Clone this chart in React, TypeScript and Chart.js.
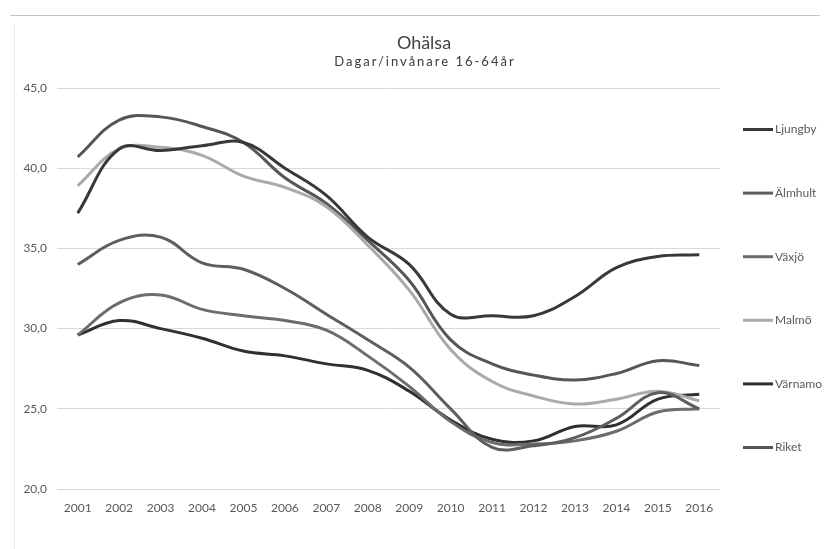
import { useEffect, useRef } from "react";
import { Chart, registerables } from "chart.js";

Chart.register(...registerables);

const years = ["2001", "2002", "2003", "2004", "2005", "2006", "2007", "2008", "2009", "2010", "2011", "2012", "2013", "2014", "2015", "2016"];

const ljungby = [37.2, 41.2, 41.1, 41.4, 41.6, 40.0, 38.3, 35.7, 34.0, 30.9, 30.8, 30.8, 32.0, 33.8, 34.5, 34.6];
const almhult = [34.0, 35.5, 35.7, 34.1, 33.7, 32.5, 30.9, 29.3, 27.6, 25.0, 22.6, 22.7, 23.2, 24.4, 26.0, 25.0];
const vaxjo = [29.6, 31.6, 32.1, 31.2, 30.8, 30.5, 29.9, 28.3, 26.4, 24.2, 22.9, 22.8, 23.0, 23.6, 24.8, 25.0];
const malmo = [38.9, 41.2, 41.3, 40.8, 39.5, 38.8, 37.6, 35.2, 32.4, 28.7, 26.7, 25.8, 25.3, 25.6, 26.1, 25.5];
const varnamo = [29.6, 30.5, 30.0, 29.4, 28.6, 28.3, 27.8, 27.4, 26.1, 24.3, 23.1, 23.0, 23.9, 24.0, 25.6, 25.9];
const riket = [40.7, 43.0, 43.2, 42.6, 41.6, 39.4, 37.8, 35.5, 33.0, 29.3, 27.8, 27.1, 26.8, 27.2, 28.0, 27.7];

const seriesNames = ["Ljungby", "Älmhult", "Växjö", "Malmö", "Värnamo", "Riket"];
const seriesValues = [ljungby, almhult, vaxjo, malmo, varnamo, riket];
const seriesColors = ["#383838", "#5e5e5e", "#6c6c6c", "#aaaaaa", "#303030", "#565656"];

const yMin = 20;
const yMax = 45;
const yStep = 5;

const titleText = "Ohälsa";
const subtitleText = "Dagar/invånare 16-64år";

const FONT = "Lato, 'Open Sans', sans-serif";

const decorPlugin = {
  id: "decor",
  beforeDraw(chart: any) {
    const ctx = chart.ctx as CanvasRenderingContext2D;
    ctx.save();
    ctx.fillStyle = "#ffffff";
    ctx.fillRect(0, 0, chart.width, chart.height);
    ctx.strokeStyle = "#c4c4c4";
    ctx.lineWidth = 1;
    ctx.beginPath();
    ctx.moveTo(10, 15.5);
    ctx.lineTo(chart.width - 6, 15.5);
    ctx.stroke();
    ctx.strokeStyle = "#ebebeb";
    ctx.beginPath();
    ctx.moveTo(14.5, 24);
    ctx.lineTo(14.5, chart.height);
    ctx.stroke();
    ctx.restore();
  },
  afterDraw(chart: any) {
    const ctx = chart.ctx as CanvasRenderingContext2D;
    const area = chart.chartArea;
    ctx.save();
    // titles
    const cx = chart.width / 2 + 11;
    ctx.textAlign = "center";
    ctx.textBaseline = "middle";
    ctx.fillStyle = "#404040";
    ctx.font = `18px ${FONT}`;
    ctx.fillText(titleText, cx, 43);
    (ctx as any).letterSpacing = "2px";
    ctx.fillStyle = "#3a3a3a";
    ctx.font = `13px ${FONT}`;
    ctx.fillText(subtitleText, cx + 1, 62);
    (ctx as any).letterSpacing = "0px";

    // legend
    const datasets = chart.data.datasets;
    const n = datasets.length;
    const cy = (area.top + area.bottom) / 2;
    const gap = 63.6;
    const x0 = area.right + 23;
    ctx.textAlign = "left";
    ctx.font = `12px ${FONT}`;
    datasets.forEach((ds: any, i: number) => {
      const y = cy + (i - (n - 1) / 2) * gap;
      ctx.strokeStyle = ds.borderColor;
      ctx.lineWidth = 3;
      ctx.beginPath();
      ctx.moveTo(x0, y);
      ctx.lineTo(x0 + 30, y);
      ctx.stroke();
      ctx.fillStyle = "#595959";
      ctx.fillText(ds.label, x0 + 32, y);
    });
    ctx.restore();
  },
};

export default function App() {
  const ref = useRef<HTMLCanvasElement | null>(null);

  useEffect(() => {
    if (!ref.current) return;
    const chart = new Chart(ref.current, {
      type: "line",
      data: {
        labels: years,
        datasets: seriesNames.map((name, i) => ({
          label: name,
          data: seriesValues[i],
          borderColor: seriesColors[i],
          backgroundColor: seriesColors[i],
          borderWidth: 3,
          pointRadius: 0,
          tension: 0.4,
          fill: false,
        })),
      },
      options: {
        responsive: false,
        animation: false,
        devicePixelRatio: 1,
        layout: { padding: { left: 20, right: 106, top: 88, bottom: 20 } },
        plugins: {
          legend: { display: false },
          title: { display: false },
          tooltip: { enabled: false },
        },
        scales: {
          x: {
            type: "category",
            offset: true,
            grid: { display: false },
            border: { display: false },
            ticks: {
              color: "#595959",
              font: { family: FONT, size: 12 },
              padding: 4,
              maxRotation: 0,
              autoSkip: false,
            },
            afterFit(scale: any) {
              scale.height = 40;
            },
          },
          y: {
            min: yMin,
            max: yMax,
            grid: { color: "#d9d9d9", drawTicks: false, lineWidth: 1 },
            border: { display: false },
            ticks: {
              stepSize: yStep,
              color: "#595959",
              font: { family: FONT, size: 12 },
              padding: 10,
              callback: (v: any) => Number(v).toFixed(1).replace(".", ","),
            },
            afterFit(scale: any) {
              scale.width = 37;
            },
          },
        },
      },
      plugins: [decorPlugin],
    });
    return () => chart.destroy();
  }, []);

  return (
    <div style={{ position: "absolute", left: 0, top: 0, width: 826, height: 549, background: "#fff" }}>
      <canvas ref={ref} width={826} height={549} />
    </div>
  );
}
